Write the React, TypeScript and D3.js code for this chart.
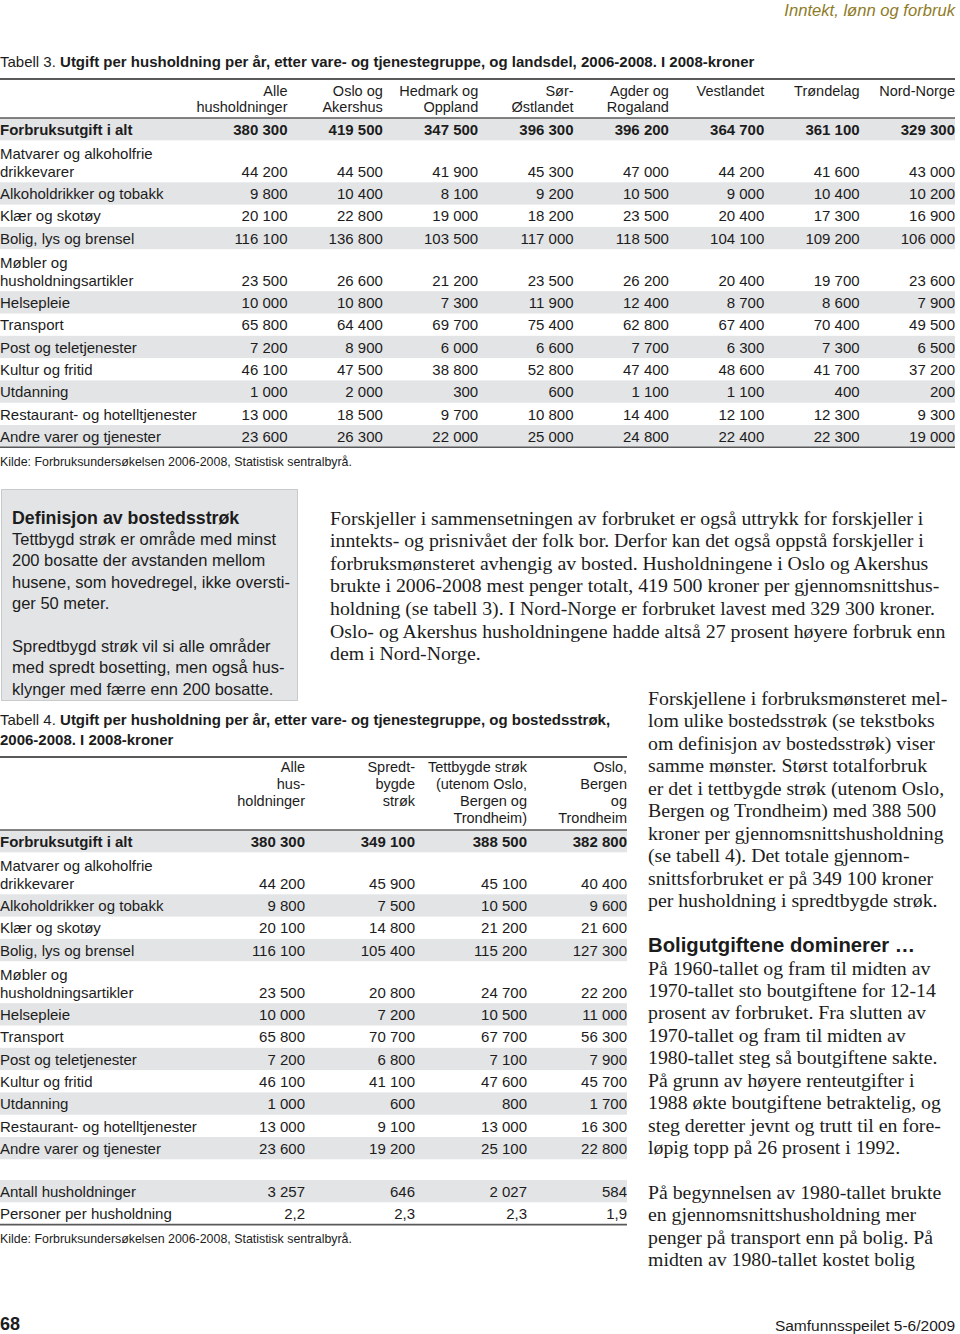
import React from 'react';
import * as d3 from 'd3';

// ---------- DATA ----------
const categoryLines: string[][] = [
  ['Forbruksutgift i alt'],
  ['Matvarer og alkoholfrie', 'drikkevarer'],
  ['Alkoholdrikker og tobakk'],
  ['Klær og skotøy'],
  ['Bolig, lys og brensel'],
  ['Møbler og', 'husholdningsartikler'],
  ['Helsepleie'],
  ['Transport'],
  ['Post og teletjenester'],
  ['Kultur og fritid'],
  ['Utdanning'],
  ['Restaurant- og hotelltjenester'],
  ['Andre varer og tjenester'],
];

const regionHeaders: string[][] = [
  ['Alle', 'husholdninger'],
  ['Oslo og', 'Akershus'],
  ['Hedmark og', 'Oppland'],
  ['Sør-', 'Østlandet'],
  ['Agder og', 'Rogaland'],
  ['Vestlandet'],
  ['Trøndelag'],
  ['Nord-Norge'],
];

const alleHusholdninger = [380300, 44200, 9800, 20100, 116100, 23500, 10000, 65800, 7200, 46100, 1000, 13000, 23600];
const osloAkershus = [419500, 44500, 10400, 22800, 136800, 26600, 10800, 64400, 8900, 47500, 2000, 18500, 26300];
const hedmarkOppland = [347500, 41900, 8100, 19000, 103500, 21200, 7300, 69700, 6000, 38800, 300, 9700, 22000];
const sorOstlandet = [396300, 45300, 9200, 18200, 117000, 23500, 11900, 75400, 6600, 52800, 600, 10800, 25000];
const agderRogaland = [396200, 47000, 10500, 23500, 118500, 26200, 12400, 62800, 7700, 47400, 1100, 14400, 24800];
const vestlandet = [364700, 44200, 9000, 20400, 104100, 20400, 8700, 67400, 6300, 48600, 1100, 12100, 22400];
const trondelag = [361100, 41600, 10400, 17300, 109200, 19700, 8600, 70400, 7300, 41700, 400, 12300, 22300];
const nordNorge = [329300, 43000, 10200, 16900, 106000, 23600, 7900, 49500, 6500, 37200, 200, 9300, 19000];

const table3Series = [alleHusholdninger, osloAkershus, hedmarkOppland, sorOstlandet, agderRogaland, vestlandet, trondelag, nordNorge];

const bostedHeaders: string[][] = [
  ['Alle', 'hus-', 'holdninger'],
  ['Spredt-', 'bygde', 'strøk'],
  ['Tettbygde strøk', '(utenom Oslo,', 'Bergen og', 'Trondheim)'],
  ['Oslo,', 'Bergen', 'og', 'Trondheim'],
];

const alleHusholdninger4 = [380300, 44200, 9800, 20100, 116100, 23500, 10000, 65800, 7200, 46100, 1000, 13000, 23600];
const spredtbygde = [349100, 45900, 7500, 14800, 105400, 20800, 7200, 70700, 6800, 41100, 600, 9100, 19200];
const tettbygde = [388500, 45100, 10500, 21200, 115200, 24700, 10500, 67700, 7100, 47600, 800, 13000, 25100];
const osloBergenTrondheim = [382800, 40400, 9600, 21600, 127300, 22200, 11000, 56300, 7900, 45700, 1700, 16300, 22800];

const table4Series = [alleHusholdninger4, spredtbygde, tettbygde, osloBergenTrondheim];

const antallHusholdninger = [3257, 646, 2027, 584];
const personerPerHusholdning = [2.2, 2.3, 2.3, 1.9];

const boxTitle = 'Definisjon av bostedsstrøk';
const boxLines = [
  'Tettbygd strøk er område med minst',
  '200 bosatte der avstanden mellom',
  'husene, som hovedregel, ikke oversti-',
  'ger 50 meter.',
  '',
  'Spredtbygd strøk vil si alle områder',
  'med spredt bosetting, men også hus-',
  'klynger med færre enn 200 bosatte.',
];

const middleText = [
  'Forskjeller i sammensetningen av forbruket er også uttrykk for forskjeller i',
  'inntekts- og prisnivået der folk bor. Derfor kan det også oppstå forskjeller i',
  'forbruksmønsteret avhengig av bosted. Husholdningene i Oslo og Akershus',
  'brukte i 2006-2008 mest penger totalt, 419 500 kroner per gjennomsnittshus-',
  'holdning (se tabell 3). I Nord-Norge er forbruket lavest med 329 300 kroner.',
  'Oslo- og Akershus husholdningene hadde altså 27 prosent høyere forbruk enn',
  'dem i Nord-Norge.',
];

const rightText1 = [
  'Forskjellene i forbruksmønsteret mel-',
  'lom ulike bostedsstrøk (se tekstboks',
  'om definisjon av bostedsstrøk) viser',
  'samme mønster. Størst totalforbruk',
  'er det i tettbygde strøk (utenom Oslo,',
  'Bergen og Trondheim) med 388 500',
  'kroner per gjennomsnittshusholdning',
  '(se tabell 4). Det totale gjennom-',
  'snittsforbruket er på 349 100 kroner',
  'per husholdning i spredtbygde strøk.',
];
const rightHeading = 'Boligutgiftene dominerer …';
const rightText2 = [
  'På 1960-tallet og fram til midten av',
  '1970-tallet sto boutgiftene for 12-14',
  'prosent av forbruket. Fra slutten av',
  '1970-tallet og fram til midten av',
  '1980-tallet steg så boutgiftene sakte.',
  'På grunn av høyere renteutgifter i',
  '1988 økte boutgiftene betraktelig, og',
  'steg deretter jevnt og trutt til en fore-',
  'løpig topp på 26 prosent i 1992.',
];
const rightText3 = [
  'På begynnelsen av 1980-tallet brukte',
  'en gjennomsnittshusholdning mer',
  'penger på transport enn på bolig. På',
  'midten av 1980-tallet kostet bolig',
];

// ---------- STYLE ----------
const SANS = "'Liberation Sans', Arial, sans-serif";
const SERIF = "'Liberation Serif', 'Times New Roman', serif";
const TXT = '#1c1c1c';
const BAND = '#e3e4e6';
const RULE = '#5a5a5a';
const SERIF_SIZE = 19.8;

const nbLocale = d3.formatLocale({ decimal: ',', thousands: ' ', grouping: [3], currency: ['', ' kr'] });
const fmtInt = nbLocale.format(',d');
const fmtDec = nbLocale.format(',.1f');

const SINGLE = 22.3;
const DOUBLE = 42;

function rowLayout(top: number) {
  const heights = categoryLines.map((l) => (l.length > 1 ? DOUBLE : SINGLE));
  const bottoms = Array.from(d3.cumsum(heights)).map((v) => v + top);
  return categoryLines.map((_, i) => ({ top: bottoms[i] - heights[i], bottom: bottoms[i] }));
}

function DataTable({ ruleY, xRight, series, tableRight }: any) {
  const rows = rowLayout(ruleY);
  return (
    <g>
      {rows.map((r, i) =>
        i % 2 === 0 ? <rect key={'b' + i} x={0} y={r.top} width={tableRight} height={r.bottom - r.top} fill={BAND} /> : null
      )}
      {rows.map((r, i) => (
        <g key={'r' + i} fontWeight={i === 0 ? 'bold' : 'normal'}>
          {categoryLines[i].map((t, j) => (
            <text key={j} x={0} y={r.bottom - 5.5 - (categoryLines[i].length - 1 - j) * 18} fontSize={15}>
              {t}
            </text>
          ))}
          {series.map((s: number[], c: number) => (
            <text key={'v' + c} x={xRight(c)} y={r.bottom - 5.5} textAnchor="end" fontSize={15}>
              {fmtInt(s[i])}
            </text>
          ))}
        </g>
      ))}
    </g>
  );
}

export default function App() {
  const x3 = d3.scalePoint<number>().domain(d3.range(table3Series.length)).range([287.5, 955]);
  const x4 = d3.scaleOrdinal<number, number>().domain(d3.range(table4Series.length)).range([305, 415, 527, 627]);

  const t3Rule = 118;
  const t3Rows = rowLayout(t3Rule);
  const t3Bottom = t3Rows[t3Rows.length - 1].bottom;

  const t4Rule = 830;
  const t4Rows = rowLayout(t4Rule);
  const t4DataBottom = t4Rows[t4Rows.length - 1].bottom;
  const extraTop = t4DataBottom + 20.7;
  const extraRows = [
    { label: 'Antall husholdninger', vals: antallHusholdninger.map(fmtInt), top: extraTop },
    { label: 'Personer per husholdning', vals: personerPerHusholdning.map(fmtDec), top: extraTop + SINGLE },
  ];
  const t4Bottom = extraTop + 2 * SINGLE;

  return (
    <svg
      width={960}
      height={1334}
      viewBox="0 0 960 1334"
      style={{ position: 'absolute', left: 0, top: 0, background: '#fff' }}
      fontFamily={SANS}
      fill={TXT}
    >
      {/* page header */}
      <text x={955} y={15.5} textAnchor="end" fontStyle="italic" fontSize={16.6} fill="#8f7b27">
        Inntekt, lønn og forbruk
      </text>

      {/* Table 3 */}
      <text x={0} y={67} fontSize={15}>
        <tspan>Tabell 3. </tspan>
        <tspan fontWeight="bold">Utgift per husholdning per år, etter vare- og tjenestegruppe, og landsdel, 2006-2008. I 2008-kroner</tspan>
      </text>
      <line x1={0} x2={955} y1={79} y2={79} stroke={RULE} strokeWidth={2} />
      {regionHeaders.map((h, c) =>
        h.map((t, j) => (
          <text key={c + '-' + j} x={x3(c)} y={96 + j * 16} textAnchor="end" fontSize={14.5}>
            {t}
          </text>
        ))
      )}
      <DataTable ruleY={t3Rule} xRight={(c: number) => x3(c)} series={table3Series} tableRight={955} />
      <line x1={0} x2={955} y1={t3Rule} y2={t3Rule} stroke={RULE} strokeWidth={1.6} />
      <line x1={0} x2={955} y1={t3Bottom} y2={t3Bottom} stroke={RULE} strokeWidth={1.6} />
      <text x={0} y={t3Bottom + 19} fontSize={12.4}>
        Kilde: Forbruksundersøkelsen 2006-2008, Statistisk sentralbyrå.
      </text>

      {/* Definition box */}
      <rect x={1.5} y={489.5} width={296} height={211} fill={BAND} stroke="#c9cacc" strokeWidth={1} />
      <text x={12} y={523.5} fontSize={17.8} fontWeight="bold">
        {boxTitle}
      </text>
      {boxLines.map((t, i) => (
        <text key={i} x={12} y={545 + i * 21.4} fontSize={16.5}>
          {t}
        </text>
      ))}

      {/* Middle text */}
      {middleText.map((t, i) => (
        <text key={i} x={330} y={524.5 + i * 22.6} fontFamily={SERIF} fontSize={SERIF_SIZE}>
          {t}
        </text>
      ))}

      {/* Right column */}
      {rightText1.map((t, i) => (
        <text key={i} x={648} y={704.5 + i * 22.5} fontFamily={SERIF} fontSize={SERIF_SIZE}>
          {t}
        </text>
      ))}
      <text x={648} y={951.5} fontSize={20.3} fontWeight="bold">
        {rightHeading}
      </text>
      {rightText2.map((t, i) => (
        <text key={i} x={648} y={974.5 + i * 22.45} fontFamily={SERIF} fontSize={SERIF_SIZE}>
          {t}
        </text>
      ))}
      {rightText3.map((t, i) => (
        <text key={i} x={648} y={1198.5 + i * 22.5} fontFamily={SERIF} fontSize={SERIF_SIZE}>
          {t}
        </text>
      ))}

      {/* Table 4 */}
      <text x={0} y={725} fontSize={15}>
        <tspan>Tabell 4. </tspan>
        <tspan fontWeight="bold">Utgift per husholdning per år, etter vare- og tjenestegruppe, og bostedsstrøk,</tspan>
      </text>
      <text x={0} y={745} fontSize={15} fontWeight="bold">
        2006-2008. I 2008-kroner
      </text>
      <line x1={0} x2={627} y1={757} y2={757} stroke={RULE} strokeWidth={2} />
      {bostedHeaders.map((h, c) =>
        h.map((t, j) => (
          <text key={c + '-' + j} x={x4(c)} y={772 + j * 17} textAnchor="end" fontSize={14.5}>
            {t}
          </text>
        ))
      )}
      <DataTable ruleY={t4Rule} xRight={(c: number) => x4(c)} series={table4Series} tableRight={627} />
      <line x1={0} x2={627} y1={t4Rule} y2={t4Rule} stroke={RULE} strokeWidth={1.6} />
      {extraRows.map((r, i) => (
        <g key={'e' + i}>
          {i === 0 ? <rect x={0} y={r.top} width={627} height={SINGLE} fill={BAND} /> : null}
          <text x={0} y={r.top + SINGLE - 5.5} fontSize={15}>
            {r.label}
          </text>
          {r.vals.map((v, c) => (
            <text key={c} x={x4(c)} y={r.top + SINGLE - 5.5} textAnchor="end" fontSize={15}>
              {v}
            </text>
          ))}
        </g>
      ))}
      <line x1={0} x2={627} y1={t4Bottom} y2={t4Bottom} stroke={RULE} strokeWidth={1.6} />
      <text x={0} y={t4Bottom + 18} fontSize={12.4}>
        Kilde: Forbruksundersøkelsen 2006-2008, Statistisk sentralbyrå.
      </text>

      {/* Footer */}
      <text x={0} y={1330} fontSize={18} fontWeight="bold">
        68
      </text>
      <text x={955} y={1331} textAnchor="end" fontSize={15.5}>
        Samfunnsspeilet 5-6/2009
      </text>
    </svg>
  );
}
